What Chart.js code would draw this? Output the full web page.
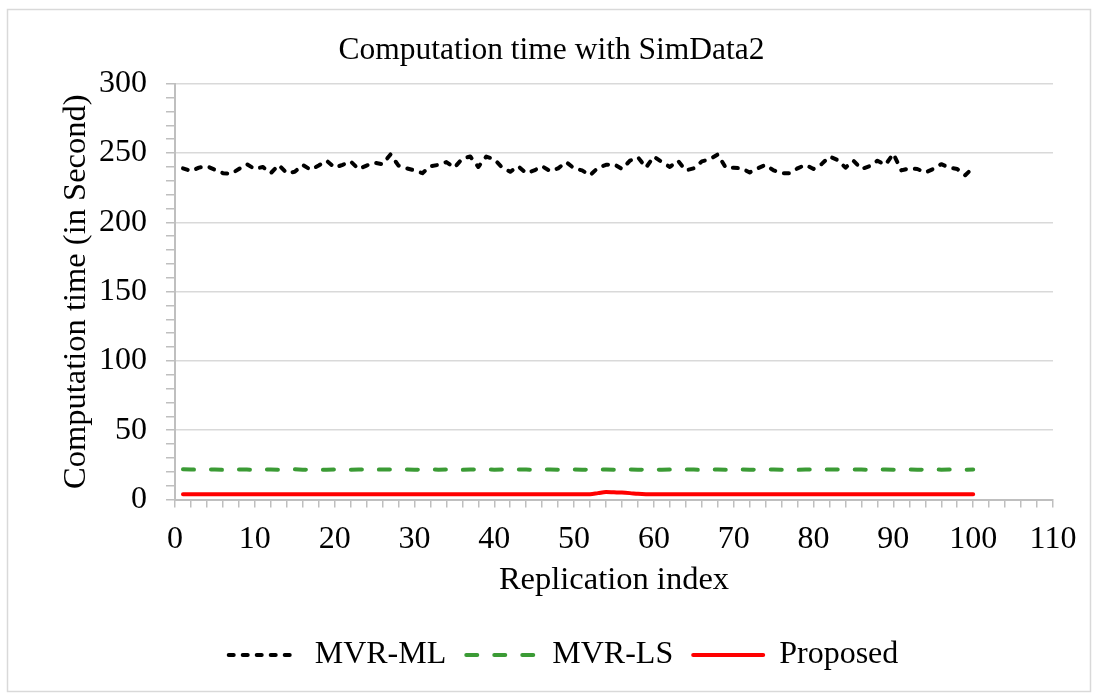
<!DOCTYPE html>
<html>
<head>
<meta charset="utf-8">
<script src="https://cdn.jsdelivr.net/npm/chart.js@4.4.1/dist/chart.umd.min.js"></script>
<style>
  html, body { margin: 0; padding: 0; background: #fff; }
  canvas { display: block; }
</style>
</head>
<body>
<canvas id="grafico" width="1098" height="700"></canvas>
<script>
// valores (tempo em segundos por replicação 1..100)
const replicacoes = Array.from({ length: 100 }, (_, i) => i + 1);

const mvrML = [
  239, 237, 239.5, 240.5, 238, 235.5, 235, 238.5, 242, 238.5,
  240, 235.5, 241.5, 235.5, 236.5, 241.5, 238, 241, 244.5, 239.5,
  241.5, 244, 238.5, 241, 243, 242, 249, 241, 239, 237.5,
  235.5, 240.5, 241.5, 243.5, 239.5, 246, 247.5, 240, 247.5, 245.5,
  239.5, 236.5, 240.5, 235.5, 237.5, 240.5, 237, 239, 243.5, 239,
  237.5, 234, 239.5, 241.5, 242, 238.5, 244.5, 247, 239.5, 247.5,
  243.5, 240, 244.5, 237.5, 239, 244, 245.5, 249, 239.5, 239.5,
  239, 236, 239, 241.5, 237.5, 235.5, 235.5, 239, 241.5, 238.5,
  242, 247.5, 245, 239.5, 244.5, 238.5, 240.5, 244.5, 241.5, 249.5,
  237.5, 239, 238.5, 236, 238.5, 242, 239.5, 238.5, 234, 239.5
];

const mvrLS = [
  21.8, 21.6, 21.5, 21.6, 21.7, 21.4, 21.5, 21.6, 21.6, 21.3,
  21.7, 21.6, 21.5, 21.6, 21.8, 21.5, 21.6, 21.6, 21.4, 21.6,
  21.7, 21.5, 21.6, 21.6, 21.5, 21.7, 21.6, 21.4, 21.6, 21.5,
  21.6, 21.7, 21.5, 21.6, 21.6, 21.4, 21.6, 21.6, 21.7, 21.5,
  21.6, 21.5, 21.6, 21.6, 21.4, 21.6, 21.7, 21.5, 21.6, 21.6,
  21.5, 21.6, 21.8, 21.6, 21.5, 21.6, 21.6, 21.5, 21.6, 21.7,
  21.4, 21.6, 21.5, 21.6, 21.6, 21.3, 21.7, 21.6, 21.4, 21.6,
  21.6, 21.5, 21.6, 21.6, 21.7, 21.5, 21.6, 21.4, 21.6, 21.6,
  21.5, 21.7, 21.6, 21.5, 21.6, 21.6, 21.4, 21.6, 21.7, 21.5,
  21.6, 21.6, 21.5, 21.6, 21.7, 21.5, 21.6, 21.6, 21.5, 21.6
];

const proposto = [
  3.7, 3.7, 3.7, 3.7, 3.7, 3.7, 3.7, 3.7, 3.7, 3.7,
  3.7, 3.7, 3.7, 3.7, 3.7, 3.7, 3.7, 3.7, 3.7, 3.7,
  3.7, 3.8, 3.8, 3.8, 3.8, 3.8, 3.7, 3.7, 3.7, 3.7,
  3.7, 3.7, 3.7, 3.7, 3.7, 3.7, 3.7, 3.7, 3.7, 3.7,
  3.7, 3.7, 3.7, 3.7, 3.7, 3.7, 3.7, 3.7, 3.7, 3.7,
  3.7, 3.8, 4.6, 5.4, 5.2, 5.0, 4.6, 4.1, 3.8, 3.7,
  3.7, 3.7, 3.7, 3.7, 3.7, 3.7, 3.7, 3.7, 3.7, 3.7,
  3.7, 3.7, 3.7, 3.7, 3.7, 3.7, 3.7, 3.7, 3.7, 3.7,
  3.7, 3.7, 3.7, 3.7, 3.7, 3.7, 3.7, 3.7, 3.7, 3.7,
  3.7, 3.7, 3.7, 3.7, 3.7, 3.7, 3.7, 3.7, 3.7, 3.7
];

const series = ['MVR-ML', 'MVR-LS', 'Proposed'];
const xMin = 0, xMax = 110, xLabelStep = 10, xMinorStep = 2;
const yMin = 0, yMax = 300, yLabelStep = 50, yMinorStep = 10;

const fonte = "'Liberation Serif', 'Times New Roman', serif";
const cinzaEixo = '#bfbfbf';
const cinzaGrade = '#d9d9d9';

function pares(valores) {
  return valores.map((v, i) => ({ x: replicacoes[i], y: v }));
}

const moldura = {
  id: 'moldura',
  beforeDraw(chart) {
    const c = chart.ctx;
    c.save();
    c.fillStyle = '#fff';
    c.fillRect(0, 0, chart.width, chart.height);
    c.strokeStyle = cinzaGrade;
    c.lineWidth = 1.5;
    c.strokeRect(7.5, 9.5, 1083, 682);
    c.restore();
  },
  afterLayout(chart) {
    // legenda e título ficam um pouco à direita no original
    chart.legend.left += 37;
    chart.legend.right += 37;
    chart.titleBlock.left += 25;
    chart.titleBlock.right += 25;
  }
};

const ctx = document.getElementById('grafico').getContext('2d');
new Chart(ctx, {
  type: 'line',
  data: {
    datasets: [
      {
        label: series[0],
        data: pares(mvrML),
        borderColor: '#000000',
        backgroundColor: '#000000',
        borderWidth: 4,
        borderDash: [5, 9],
        borderCapStyle: 'round',
        borderJoinStyle: 'round',
        pointRadius: 0,
        tension: 0
      },
      {
        label: series[1],
        data: pares(mvrLS),
        borderColor: '#3b9b35',
        backgroundColor: '#3b9b35',
        borderWidth: 4,
        borderDash: [11, 17],
        borderCapStyle: 'round',
        pointRadius: 0,
        tension: 0
      },
      {
        label: series[2],
        data: pares(proposto),
        borderColor: '#ff0000',
        backgroundColor: '#ff0000',
        borderWidth: 4,
        borderCapStyle: 'round',
        pointRadius: 0,
        cubicInterpolationMode: 'monotone'
      }
    ]
  },
  options: {
    responsive: false,
    animation: false,
    layout: { padding: { left: 0, right: 45, top: 0, bottom: 19 } },
    scales: {
      x: {
        type: 'linear',
        min: xMin,
        max: xMax,
        afterFit: s => { s.height = 119.5; },
        border: { color: cinzaEixo, width: 2 },
        grid: { drawOnChartArea: false, tickLength: 8, tickColor: cinzaEixo, lineWidth: 1.5 },
        ticks: {
          stepSize: xMinorStep,
          autoSkip: false,
          maxRotation: 0,
          padding: 13,
          color: '#000',
          font: { family: fonte, size: 32 },
          callback: v => (v % xLabelStep === 0 ? v : '')
        },
        title: {
          display: true,
          text: 'Replication index',
          color: '#000',
          font: { family: fonte, size: 32.5 },
          padding: { top: 0, bottom: 19 }
        }
      },
      y: {
        min: yMin,
        max: yMax,
        afterFit: s => { s.width = 175; },
        border: { color: cinzaEixo, width: 2 },
        grid: {
          color: c => (c.tick && c.tick.value % yLabelStep === 0 ? cinzaGrade : 'rgba(0,0,0,0)'),
          lineWidth: 1.5,
          tickLength: 9,
          tickColor: cinzaEixo
        },
        ticks: {
          stepSize: yMinorStep,
          autoSkip: false,
          padding: 19,
          color: '#000',
          font: { family: fonte, size: 32 },
          callback: v => (v % yLabelStep === 0 ? v : '')
        },
        title: {
          display: true,
          text: 'Computation time (in Second)',
          color: '#000',
          font: { family: fonte, size: 32.5 },
          padding: { top: 57, bottom: 0 }
        }
      }
    },
    plugins: {
      title: {
        display: true,
        text: 'Computation time with SimData2',
        color: '#000',
        font: { family: fonte, size: 31.5, weight: 'normal' },
        padding: { top: 32, bottom: 14 }
      },
      legend: {
        position: 'bottom',
        labels: {
          usePointStyle: true,
          pointStyle: 'line',
          pointStyleWidth: 70,
          padding: 20,
          color: '#000',
          font: { family: fonte, size: 32 },
          generateLabels: chart => {
            const itens = Chart.defaults.plugins.legend.labels.generateLabels(chart);
            return itens.map(item => {
              const ds = chart.data.datasets[item.datasetIndex];
              item.lineDash = ds.borderDash || [];
              item.lineCap = ds.borderCapStyle || 'butt';
              item.lineWidth = ds.borderWidth;
              item.strokeStyle = ds.borderColor;
              return item;
            });
          }
        }
      },
      tooltip: { enabled: false }
    }
  },
  plugins: [moldura]
});
</script>
</body>
</html>
